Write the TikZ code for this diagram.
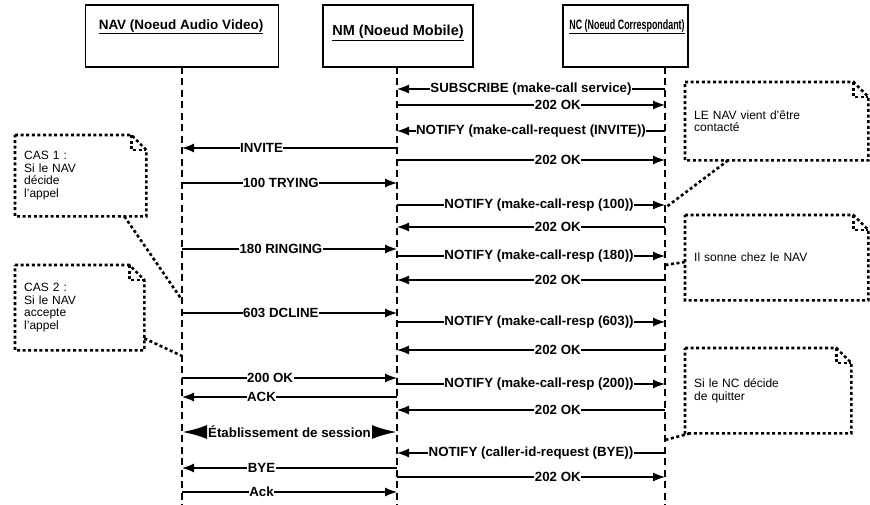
\documentclass[tikz,border=0pt]{standalone}
\usepackage{fontspec}
\setmainfont{Liberation Sans}
\usetikzlibrary{arrows.meta,calc}

\tikzset{
  actor/.style={draw, line width=1.8pt, minimum height=62pt, inner sep=0pt},
  actortitle/.style={font=\bfseries\fontsize{13.5}{15}\selectfont, inner sep=1pt},
  lifeline/.style={line width=1.8pt, dash pattern=on 7pt off 4.5pt},
  msg/.style={line width=1.2pt, -{Latex[length=12pt,width=9pt]}},
  msglabel/.style={font=\bfseries\fontsize{13.3}{15}\selectfont, fill=white, inner xsep=0.5pt, inner ysep=1pt},
  session/.style={line width=2.5pt, -{Latex[length=25pt,width=14pt]}},
  notedots/.style={line width=2.6pt, dash pattern=on 3pt off 2.6pt},
  notebox/.style={anchor=north west, align=left, text width=#1, inner xsep=9pt, inner ysep=0pt,
    font=\fontsize{12}{12.5}\selectfont},
}

% folded corner outline round a note node
\def\fold{15pt}
\newcommand{\foldnote}[1]{%
  \draw[notedots] (#1.north west) -- ([xshift=-\fold]#1.north east)
    -- ([yshift=-\fold]#1.north east) -- (#1.south east) -- (#1.south west) -- cycle;
  \draw[notedots] ([xshift=-\fold]#1.north east) -- ([xshift=-\fold,yshift=-\fold]#1.north east)
    -- ([yshift=-\fold]#1.north east);
}

\begin{document}
\begin{tikzpicture}[x=1pt, y=-1pt]

\useasboundingbox (0,0) rectangle (870,505);

% Actor boxes
\node[actor, minimum width=193pt] (navbox) at (182,36) {};
\node[actor, minimum width=150pt] (nmbox) at (398,36) {};
\node[actor, minimum width=125pt] (ncbox) at (625.5,36) {};

\node[actortitle] (navtitle) at (181,27) {\underline{NAV (Noeud Audio Video)}};
\node[actortitle, font=\bfseries\fontsize{14.5}{15}\selectfont] (nmtitle) at (398,33) {\underline{NM (Noeud Mobile)}};
\node[actortitle] (nctitle) at (627,27) {\scalebox{0.66}[1]{\underline{NC (Noeud Correspondant)}}};

% Lifelines
\coordinate (navl) at (182,67);
\coordinate (nml) at (397,67);
\coordinate (ncl) at (665,67);
\coordinate (navend) at (182,505);
\coordinate (nmend) at (397,505);
\coordinate (ncend) at (665,505);

\draw[lifeline] (navl) -- (navend);
\draw[lifeline] (nml) -- (nmend);
\draw[lifeline] (ncl) -- (ncend);

% Messages NM <-> NC
\draw[msg] (ncl |- 0,89) -- node[msglabel] (m1) {SUBSCRIBE (make-call service)} (nml |- 0,89);
\draw[msg] (nml |- 0,105) -- node[msglabel, pos=0.6] (m2) {202 OK} (ncl |- 0,105);
\draw[msg] (ncl |- 0,131) -- node[msglabel] (m3) {NOTIFY (make-call-request (INVITE))} (nml |- 0,131);
\draw[msg] (nml |- 0,160) -- node[msglabel, pos=0.6] (m5) {202 OK} (ncl |- 0,160);
\draw[msg] (nml |- 0,205) -- node[msglabel, pos=0.53] (m7) {NOTIFY (make-call-resp (100))} (ncl |- 0,205);
\draw[msg] (ncl |- 0,227) -- node[msglabel, pos=0.4] (m8) {202 OK} (nml |- 0,227);
\draw[msg] (nml |- 0,256) -- node[msglabel, pos=0.53] (m10) {NOTIFY (make-call-resp (180))} (ncl |- 0,256);
\draw[msg] (ncl |- 0,280) -- node[msglabel, pos=0.4] (m11) {202 OK} (nml |- 0,280);
\draw[msg] (nml |- 0,322) -- node[msglabel, pos=0.53] (m13) {NOTIFY (make-call-resp (603))} (ncl |- 0,322);
\draw[msg] (ncl |- 0,350) -- node[msglabel, pos=0.4] (m14) {202 OK} (nml |- 0,350);
\draw[msg] (nml |- 0,384) -- node[msglabel, pos=0.53] (m16) {NOTIFY (make-call-resp (200))} (ncl |- 0,384);
\draw[msg] (ncl |- 0,410) -- node[msglabel, pos=0.4] (m18) {202 OK} (nml |- 0,410);
\draw[msg] (ncl |- 0,453) -- node[msglabel] (m20) {NOTIFY (caller-id-request (BYE))} (nml |- 0,453);
\draw[msg] (nml |- 0,477) -- node[msglabel, pos=0.6] (m22) {202 OK} (ncl |- 0,477);

% Messages NAV <-> NM
\draw[msg] (nml |- 0,148) -- node[msglabel, pos=0.63] (m4) {INVITE} (navl |- 0,148);
\draw[msg] (navl |- 0,183) -- node[msglabel, pos=0.46] (m6) {100 TRYING} (nml |- 0,183);
\draw[msg] (navl |- 0,249) -- node[msglabel, pos=0.46] (m9) {180 RINGING} (nml |- 0,249);
\draw[msg] (navl |- 0,313) -- node[msglabel, pos=0.46] (m12) {603 DCLINE} (nml |- 0,313);
\draw[msg] (navl |- 0,378) -- node[msglabel, pos=0.41] (m15) {200 OK} (nml |- 0,378);
\draw[msg] (nml |- 0,397) -- node[msglabel, pos=0.63] (m17) {ACK} (navl |- 0,397);
\draw[msg] (nml |- 0,468) -- node[msglabel, pos=0.63] (m21) {BYE} (navl |- 0,468);
\draw[msg] (navl |- 0,492) -- node[msglabel, pos=0.37] (m23) {Ack} (nml |- 0,492);

% Session, double headed
\node[msglabel, fill=none] (m19) at ($(navl |- 0,432)!0.5!(nml |- 0,432)$) {Établissement de session};
\draw[session] (m19.west) -- (navl |- 0,432);
\draw[session] (m19.east) -- (nml |- 0,432);

% Notes
\node[notebox=165pt, minimum height=78pt] (note1) at (685,82) {LE NAV vient d'être\\contacté};
\node[notebox=165pt, minimum height=85pt] (note2) at (685,215) {Il sonne chez le NAV};
\node[notebox=148pt, minimum height=85pt] (note3) at (685,348) {Si le NC décide\\de quitter};
\node[notebox=113pt, minimum height=81pt] (note4) at (15,135) {CAS 1 :\\Si le NAV\\décide\\l'appel\\[6pt]};
\node[notebox=111pt, minimum height=85pt] (note5) at (15,265) {CAS 2 :\\Si le NAV\\accepte\\l'appel};

\foldnote{note1}
\foldnote{note2}
\foldnote{note3}
\foldnote{note4}
\foldnote{note5}

% Note connectors
\draw[notedots] ([xshift=43pt]note1.south west) -- (ncl |- 0,208);
\draw[notedots] ([yshift=-47pt]note2.north west) -- (ncl |- 0,265);
\draw[notedots] ([xshift=5pt]note3.south west) -- (ncl |- 0,440);
\draw[notedots] ([xshift=-22pt]note4.south east) -- (navl |- 0,300);
\draw[notedots] ([yshift=12pt]note5.south east) -- (navl |- 0,356);

\end{tikzpicture}
\end{document}
